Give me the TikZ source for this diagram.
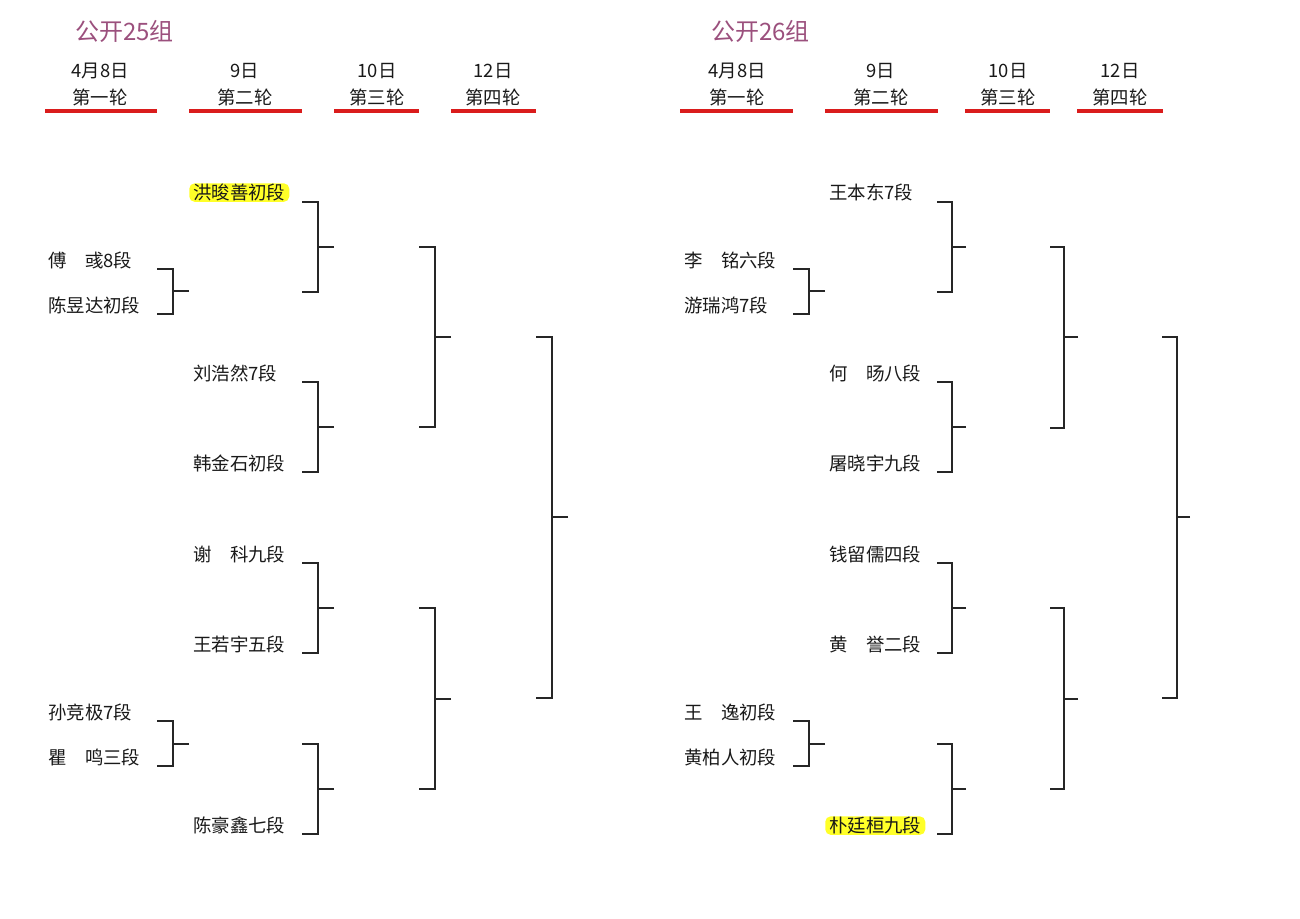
\documentclass[tikz,border=0pt]{standalone}
\usepackage{fontspec}
\newfontfamily\cjk{Noto Sans CJK SC}
\definecolor{titlepurple}{RGB}{155,80,125}
\definecolor{roundred}{RGB}{218,28,28}
\definecolor{markyellow}{RGB}{255,255,40}

\begin{document}
\begin{tikzpicture}[x=0.75pt, y=-0.75pt,
	every node/.style={font=\cjk\fontsize{13.8}{16}\selectfont, text=black!90},
	grouptitle/.style={anchor=west, inner sep=0pt, yshift=-1.2pt, text=titlepurple, font=\cjk\fontsize{18}{22}\selectfont},
	header/.style={inner sep=0pt, yshift=-1.2pt},
	player/.style={anchor=west, inner xsep=3pt, inner ysep=0.5pt, yshift=-1.2pt},
	seed/.style={player, fill=markyellow, rounded corners=4pt},
	roundline/.style={draw=roundred, line width=2.3pt},
	bracket/.style={draw=black!85, line width=1.5pt}]
	\useasboundingbox (0,0) rectangle (1300,919);

	% titles
	\node[grouptitle] (t25) at (75,30) {公开25组};
	\node[grouptitle] (t26) at (711,30) {公开26组};

	% round headers
	\foreach \h/\x/\d/\r/\xa/\xb in {a1/100/4月8日/第一轮/45/157, a2/245/9日/第二轮/189/302,
		a3/377/10日/第三轮/334/419, a4/493/12日/第四轮/451/536,
		b1/737/4月8日/第一轮/680/793, b2/881/9日/第二轮/825/938,
		b3/1008/10日/第三轮/965/1050, b4/1120/12日/第四轮/1077/1163} {
		\node[header] (\h-date) at (\x,69) {\d};
		\node[header] (\h-round) at (\x,96) {\r};
		\coordinate (\h-ls) at (\xa,111);
		\coordinate (\h-le) at (\xb,111);
		\draw[roundline] (\h-ls) -- (\h-le);
	}

	% players, group 25
	\node[seed] (p1) at (189,191) {洪晙善初段};
	\node[player] (p2) at (44,259) {傅　彧8段};
	\node[player] (p3) at (44,304) {陈昱达初段};
	\node[player] (p4) at (189,372) {刘浩然7段};
	\node[player] (p5) at (189,462) {韩金石初段};
	\node[player] (p6) at (189,553) {谢　科九段};
	\node[player] (p7) at (189,643) {王若宇五段};
	\node[player] (p8) at (44,711) {孙竞极7段};
	\node[player] (p9) at (44,756) {瞿　鸣三段};
	\node[player] (p10) at (189,824) {陈豪鑫七段};

	% players, group 26
	\node[player] (q1) at (825,191) {王本东7段};
	\node[player] (q2) at (680,259) {李　铭六段};
	\node[player] (q3) at (680,304) {游瑞鸿7段};
	\node[player] (q4) at (825,372) {何　旸八段};
	\node[player] (q5) at (825,462) {屠晓宇九段};
	\node[player] (q6) at (825,553) {钱留儒四段};
	\node[player] (q7) at (825,643) {黄　誉二段};
	\node[player] (q8) at (680,711) {王　逸初段};
	\node[player] (q9) at (680,756) {黄柏人初段};
	\node[seed] (q10) at (825,824) {朴廷桓九段};

	% brackets: name/left x/bar x/top y/bottom y/stub x
	\foreach \b/\xa/\xb/\ya/\yb/\xc in {
		a1a/157/173/269/314/189, a1b/157/173/721/766/189,
		a2a/302/318/202/292/334, a2b/302/318/382/472/334,
		a2c/302/318/563/653/334, a2d/302/318/744/834/334,
		a3a/419/435/247/427/451, a3b/419/435/608/789/451,
		a4/536/552/337/698/568,
		b1a/793/809/269/314/825, b1b/793/809/721/766/825,
		b2a/937/952/202/292/966, b2b/937/952/382/472/966,
		b2c/937/952/563/653/966, b2d/937/952/744/834/966,
		b3a/1050/1064/247/428/1078, b3b/1050/1064/608/789/1078,
		b4/1162/1177/337/698/1190} {
		\coordinate (\b-top) at (\xa,\ya);
		\coordinate (\b-bot) at (\xa,\yb);
		\coordinate (\b-out) at (\xc,{(\ya+\yb)/2});
		\draw[bracket] (\b-top) -- ++({\xb-\xa},0) |- (\b-bot);
		\draw[bracket] (\b-out) -- ++({\xb-\xc},0);
	}
\end{tikzpicture}
\end{document}
